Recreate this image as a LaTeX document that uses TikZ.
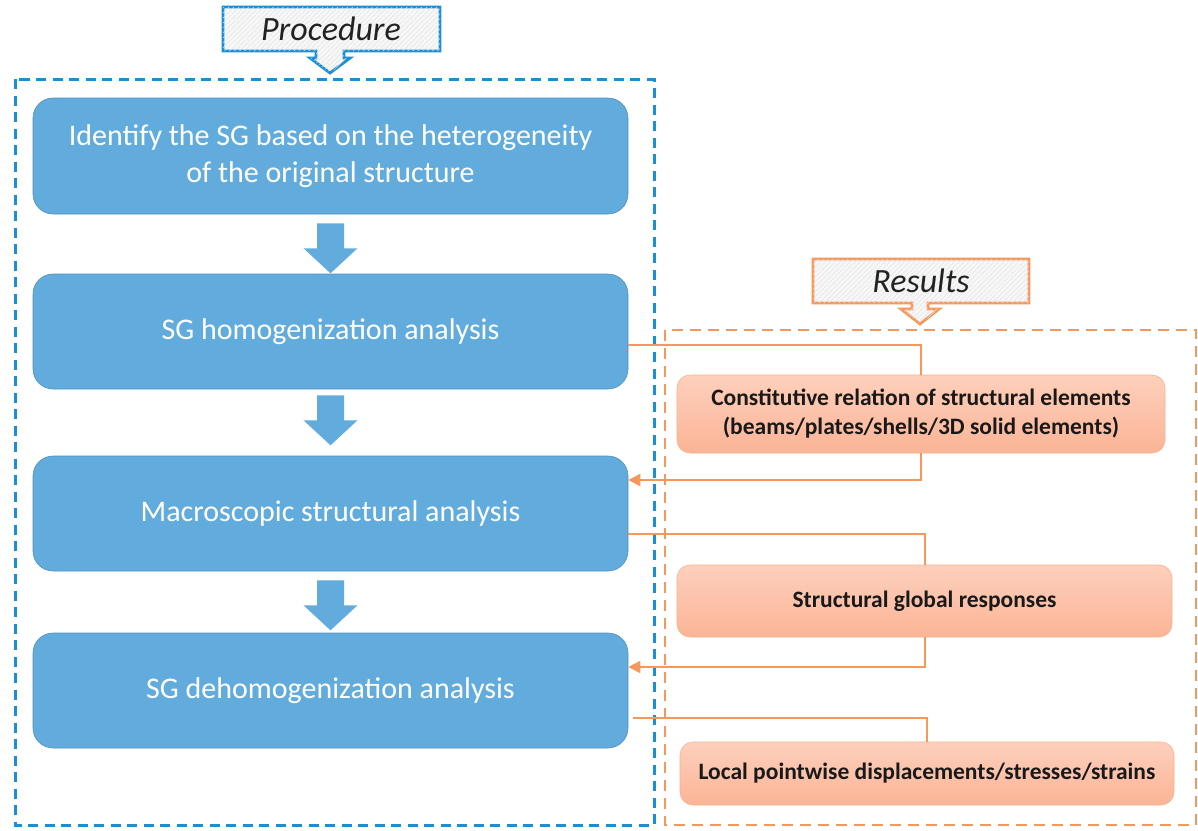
\documentclass[tikz,border=0pt]{standalone}
\usepackage{fontspec}
\setmainfont{Carlito}
\usetikzlibrary{patterns.meta,arrows.meta,calc}
\definecolor{boxblue}{RGB}{97,172,220}
\definecolor{frameblue}{RGB}{26,143,214}
\definecolor{orng}{RGB}{246,152,92}
\definecolor{otop}{RGB}{253,208,188}
\definecolor{obot}{RGB}{251,180,150}
\definecolor{oborder}{RGB}{248,178,142}
\definecolor{labeltext}{RGB}{34,34,34}
\begin{document}
\begin{tikzpicture}[x=1pt,y=-1pt,
  procbox/.style={rounded corners=20pt, fill=boxblue, draw=boxblue!85!black, line width=0.6pt,
    minimum width=595pt, minimum height=115pt, align=center, text=white,
    font=\fontsize{30}{37}\selectfont, inner sep=0pt},
  resbox/.style={rounded corners=13pt, top color=otop, bottom color=obot, draw=oborder,
    line width=0.6pt, align=center, font=\bfseries\fontsize{23.5}{29}\selectfont,
    text=black!90, inner sep=0pt},
  link/.style={orng, line width=2pt},
  arr/.style={link, -{Triangle[length=12pt,width=12pt]}},
  callout/.style={line width=2.8pt, fill=gray!6,
    postaction={pattern={Lines[angle=45,distance=3.5pt,line width=0.5pt]}, pattern color=gray!22}},
  calltext/.style={font=\itshape\fontsize{34}{38}\selectfont, text=labeltext, inner sep=0pt},
  blockarrow/.pic={\fill[boxblue] (-13.5,0) -- (13.5,0) -- (13.5,25) -- (27,25) -- (0,50)
    -- (-27,25) -- (-13.5,25) -- cycle;}
]
\useasboundingbox (0,0) rectangle (1198,830);
\fill[white] (0,0) rectangle (1198,830);

% dashed frames
\draw[frameblue, line width=3pt, dash pattern=on 10pt off 6.5pt] (15,79) rectangle (654,825);
\draw[orng, line width=2.8pt, dash pattern=on 11pt off 7pt] (665,330) rectangle (1196,825);

% callouts
\draw[callout, draw=frameblue] (223,7) -- (440,7) -- (440,51) -- (344,51) -- (344,58) -- (350,58)
  -- (330,73) -- (310,58) -- (316,58) -- (316,51) -- (223,51) -- cycle;
\node[calltext] (proclabel) at (331,29) {Procedure};
\draw[callout, draw=orng] (813,259) -- (1029,259) -- (1029,303) -- (928,303) -- (928,309) -- (939,309)
  -- (920,324) -- (901,309) -- (912,309) -- (912,303) -- (813,303) -- cycle;
\node[calltext] (reslabel) at (921,281) {Results};

% procedure boxes
\node[procbox, minimum height=116pt] (b1) at (330.5,156) {Identify the SG based on the heterogeneity\\of the original structure};
\node[procbox] (b2) at (330.5,331.5) {SG homogenization analysis};
\node[procbox] (b3) at (330.5,513.5) {Macroscopic structural analysis};
\node[procbox] (b4) at (330.5,690.5) {SG dehomogenization analysis};

% block arrows
\pic at ([yshift=-9pt]b1.south) {blockarrow};
\pic at ([yshift=-6pt]b2.south) {blockarrow};
\pic at ([yshift=-9pt]b3.south) {blockarrow};

% result boxes
\node[resbox, minimum width=488pt, minimum height=78pt] (r1) at (921,414)
  {Constitutive relation of structural elements\\(beams/plates/shells/3D solid elements)};
\node[resbox, minimum width=495pt, minimum height=72pt] (r2) at (924.5,601) {Structural global responses};
\node[resbox, minimum width=494pt, minimum height=63pt] (r3) at (927,773.5) {Local pointwise displacements/stresses/strains};

% connectors
\draw[link] ([yshift=-13.5pt]b2.east) -| (r1.north);
\draw[arr] (r1.south) |- ([yshift=33.5pt]b3.east);
\draw[link] ([yshift=-20.5pt]b3.east) -| (r2.north);
\draw[arr] (r2.south) |- ([yshift=23.5pt]b4.east);
\draw[link] ([xshift=5pt,yshift=-27.5pt]b4.east) -| (r3.north);
\end{tikzpicture}
\end{document}
